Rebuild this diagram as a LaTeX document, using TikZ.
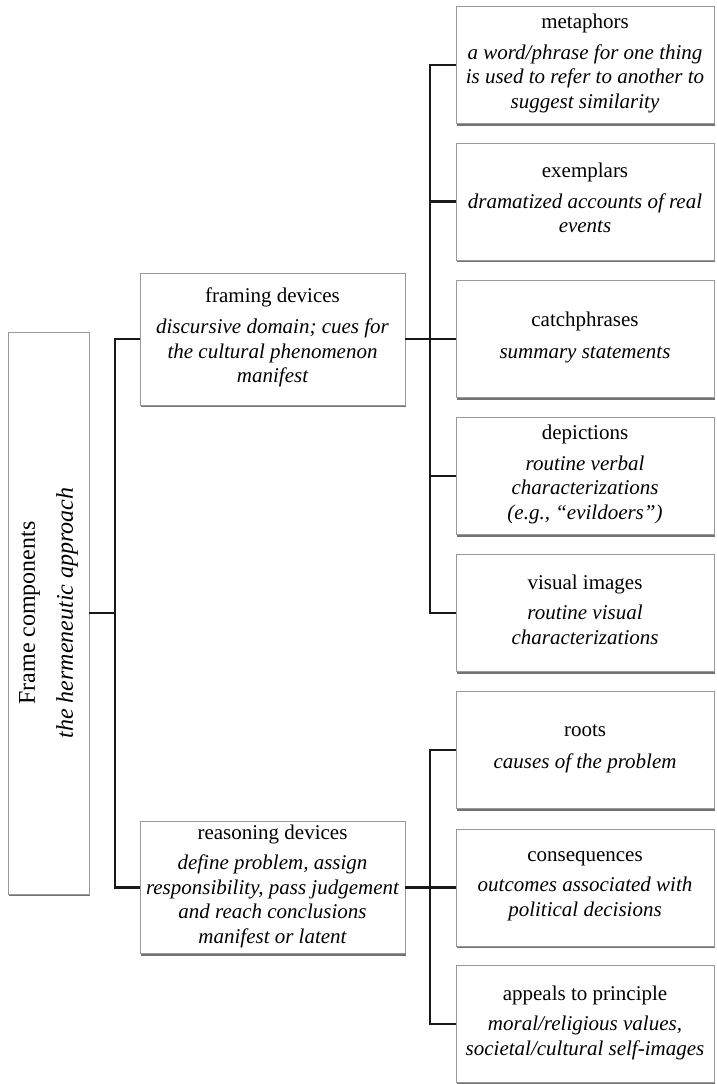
\documentclass[tikz,border=0pt]{standalone}
\usepackage{fontspec}
\setmainfont{Liberation Serif}
\usetikzlibrary{shadows}

\tikzset{
    framebox/.style = {draw = black!40, fill = white, line width = 0.7pt, align = center, inner sep = 2pt,
        drop shadow = {shadow xshift = 1.4pt, shadow yshift = -2pt, fill = black!55, opacity = 1},
        font = \fontsize{21}{24.5}\selectfont},
    leftbox/.style = {framebox, minimum width = 265pt, minimum height = 132pt},
    rightbox/.style = {framebox, minimum width = 258pt, minimum height = 117pt},
    link/.style = {line width = 2.4pt, black!90}
}
\newcommand{\boxlabel}[2]{#1\\[8pt]{\itshape\begin{tabular}{@{}c@{}}#2\end{tabular}}}

\begin{document}
\begin{tikzpicture}[x = 1pt, y = -1pt] % Frame components tree
    \useasboundingbox (0, 0) rectangle (716, 1084);

    % Root
    \node[framebox, minimum width = 81pt, minimum height = 562pt] (root) at (48.5, 613) {};
    \node[rotate = 90, align = center, font = \fontsize{24}{27}\selectfont] (roottext) at (root.center)
        {Frame components\\[11pt]\itshape the hermeneutic approach};

    % Devices
    \node[leftbox] (framing) at (272.5, 339) {\boxlabel{framing devices}{discursive domain; cues for\\ the cultural phenomenon\\ manifest}};
    \node[leftbox] (reasoning) at (272.5, 887.5) {\boxlabel{reasoning devices}{define problem, assign\\ responsibility, pass judgement\\ and reach conclusions\\ manifest or latent}};

    % Framing devices
    \node[rightbox] (metaphors) at (585, 65) {\boxlabel{metaphors}{a word/phrase for one thing\\ is used to refer to another to\\ suggest similarity}};
    \node[rightbox] (exemplars) at (585, 201.5) {\boxlabel{exemplars}{dramatized accounts of real\\ events}};
    \node[rightbox] (catchphrases) at (585, 339) {\boxlabel{catchphrases}{summary statements}};
    \node[rightbox] (depictions) at (585, 476) {\boxlabel{depictions}{routine verbal\\ characterizations\\ (e.g., ``evildoers'')}};
    \node[rightbox] (visual) at (585, 613) {\boxlabel{visual images}{routine visual\\ characterizations}};

    % Reasoning devices
    \node[rightbox] (roots) at (585, 750) {\boxlabel{roots}{causes of the problem}};
    \node[rightbox] (consequences) at (585, 887.5) {\boxlabel{consequences}{outcomes associated with\\ political decisions}};
    \node[rightbox] (appeals) at (585, 1024) {\boxlabel{appeals to principle}{moral/religious values,\\ societal/cultural self-images}};

    % Links
    \coordinate (jroot) at (115, 613);
    \coordinate (jframe) at (430, 339);
    \coordinate (jreason) at (430, 887.5);
    \draw[link] (root.east) -- (jroot);
    \draw[link] (framing.west) -| (jroot) |- (reasoning.west);
    \draw[link] (framing.east) -- (catchphrases.west);
    \draw[link] (reasoning.east) -- (consequences.west);
    \foreach \n in {metaphors, exemplars, depictions, visual}
        \draw[link] (jframe) |- (\n.west);
    \foreach \n in {roots, appeals}
        \draw[link] (jreason) |- (\n.west);
\end{tikzpicture}
\end{document}
